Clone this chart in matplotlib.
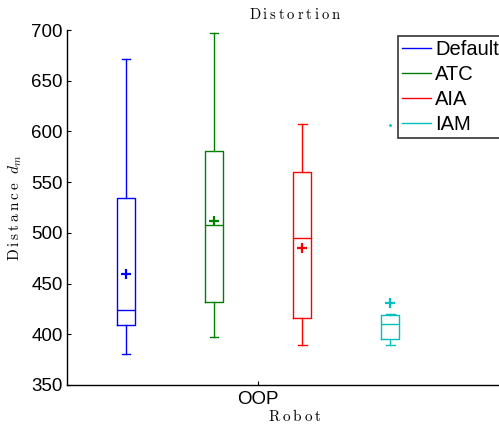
import matplotlib
matplotlib.use("Agg")
import matplotlib.pyplot as plt
from matplotlib.lines import Line2D

# box statistics
labels = ["Default", "ATC", "AIA", "IAM"]
colors = ["#0000ff", "#008000", "#ff0000", "#00bfbf"]
whishi = [671, 697, 607, 420]
q3 = [534, 581, 560, 419]
med = [424, 508, 495, 410]
q1 = [409, 432, 416, 395]
whislo = [381, 397, 389, 389]
means = [459, 512, 485, 431]
fliers = [[], [], [], [606]]
group = "OOP"
yticks = [350, 400, 450, 500, 550, 600, 650, 700]

plt.rcParams["mathtext.fontset"] = "cm"
plt.rcParams["font.family"] = ["Liberation Sans", "DejaVu Sans"]


def spaced(word):
    # letter-spaced roman text, like the LaTeX labels in the original
    return r"\mathrm{" + r"\:".join(word) + "}"


fig = plt.figure(figsize=(4.99, 4.28), dpi=100)
ax = fig.add_axes([0.1343, 0.1005, 0.914, 0.8294])

positions = [1, 2, 3, 4]
stats = []
for i in range(len(labels)):
    stats.append(dict(med=med[i], q1=q1[i], q3=q3[i], whislo=whislo[i],
                      whishi=whishi[i], mean=means[i], fliers=fliers[i]))

art = ax.bxp(stats, positions=positions, widths=0.2, capwidths=0.1,
             showmeans=True, manage_ticks=False)
for i, c in enumerate(colors):
    art["boxes"][i].set(color=c, linewidth=1.0)
    art["medians"][i].set(color=c, linewidth=1.0)
    art["means"][i].set(marker="+", markeredgecolor=c, markerfacecolor=c,
                        markersize=7.5, markeredgewidth=1.6)
    art["fliers"][i].set(marker=".", markeredgecolor=c, markerfacecolor=c,
                         markersize=2)
    for k in (2 * i, 2 * i + 1):
        art["whiskers"][k].set(color=c, linewidth=1.0, linestyle="-")
        art["caps"][k].set(color=c, linewidth=1.0)

ax.set_xlim(0.33, 5.51)
ax.set_ylim(350, 700)
ax.set_yticks(yticks)
ax.set_xticks([2.5])
ax.set_xticklabels([group])
ax.tick_params(direction="in", length=3, width=0.8, labelsize=13.5, pad=3)
ax.tick_params(axis="x", pad=4)
for s in ("top", "right"):
    ax.spines[s].set_visible(False)
for s in ("left", "bottom"):
    ax.spines[s].set_linewidth(1.0)

ax.set_title("$" + spaced("Distortion") + "$", fontsize=10.5, pad=8)
ax.set_xlabel("$" + spaced("Robot") + "$", fontsize=11, labelpad=0)
ax.set_ylabel("$" + spaced("Distance") + r"\ \ d_m$", fontsize=11, labelpad=5)

handles = [Line2D([], [], color=c, linewidth=1.0) for c in colors]
leg = fig.legend(handles, labels, loc="upper left",
                 bbox_to_anchor=(398 / 499, 1 - 36 / 428),
                 fontsize=14.5, fancybox=False, frameon=True,
                 borderpad=0.2, labelspacing=0.3, handlelength=1.45,
                 handletextpad=0.2, borderaxespad=0)
leg.get_frame().set_edgecolor("black")
leg.get_frame().set_linewidth(1.2)

fig.savefig("out.png", dpi=100)
